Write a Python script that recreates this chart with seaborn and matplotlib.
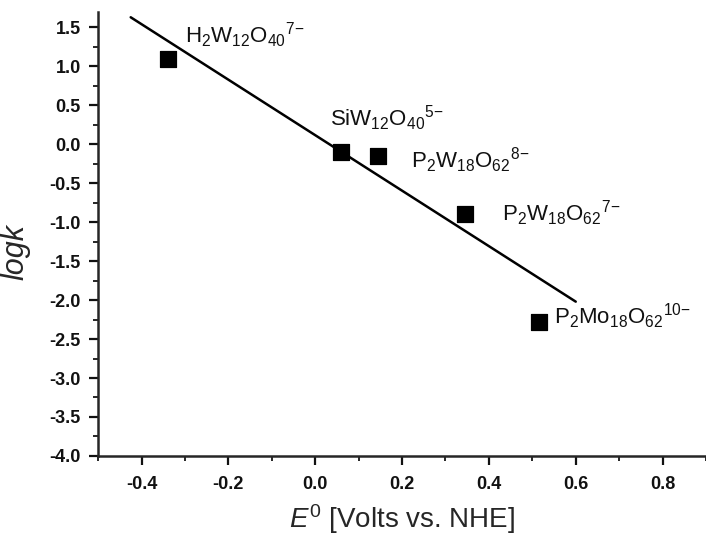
import matplotlib
matplotlib.use("Agg")
import matplotlib.pyplot as plt
import seaborn as sns
import pandas as pd
from matplotlib.ticker import MultipleLocator

# Reduction potentials and rate constants for the polyoxometalates
potential = [-0.34, 0.06, 0.145, 0.345, 0.515]
logk = [1.10, -0.10, -0.15, -0.90, -2.28]
species = [
    r"H$_2$W$_{12}$O$_{40}$$^{7\!-}$",
    r"SiW$_{12}$O$_{40}$$^{5\!-}$",
    r"P$_2$W$_{18}$O$_{62}$$^{8\!-}$",
    r"P$_2$W$_{18}$O$_{62}$$^{7\!-}$",
    r"P$_2$Mo$_{18}$O$_{62}$$^{10\!-}$",
]
label_x = [-0.30, 0.035, 0.22, 0.43, 0.55]
label_y = [1.40, 0.33, -0.20, -0.88, -2.21]

# Linear correlation line
fit_x = [-0.425, 0.60]
fit_y = [1.63, -2.02]

x_ticks = [-0.4, -0.2, 0.0, 0.2, 0.4, 0.6, 0.8]
y_ticks = [-4.0, -3.5, -3.0, -2.5, -2.0, -1.5, -1.0, -0.5, 0.0, 0.5, 1.0, 1.5]

sns.set_style("ticks")
plt.rcParams["font.family"] = ["Liberation Sans", "DejaVu Sans"]
plt.rcParams["mathtext.fontset"] = "custom"
plt.rcParams["mathtext.rm"] = "Liberation Sans"
plt.rcParams["mathtext.it"] = "Liberation Sans:italic"
plt.rcParams["mathtext.default"] = "regular"

df = pd.DataFrame({"E": potential, "logk": logk})
fit = pd.DataFrame({"E": fit_x, "logk": fit_y})

fig = plt.figure(figsize=(7.06, 5.37), dpi=100)
ax = fig.add_axes([0.139, 0.151, 0.861, 0.827])

sns.lineplot(data=fit, x="E", y="logk", ax=ax, color="black", lw=1.8)
sns.scatterplot(data=df, x="E", y="logk", ax=ax, marker="s", s=120,
                color="black", edgecolor="black", zorder=3)

for x, y, t in zip(label_x, label_y, species):
    ax.text(x, y, t, fontsize=16, va="center", ha="left", color="#111111")

ax.set_xlim(-0.5, 0.9)
ax.set_ylim(-4.0, 1.7)
ax.xaxis.set_minor_locator(MultipleLocator(0.1))
ax.yaxis.set_minor_locator(MultipleLocator(0.25))
ax.set_xticks(x_ticks)
ax.set_yticks(y_ticks)
ax.set_xticklabels([f"{v:.1f}" for v in x_ticks], fontweight="bold")
ax.set_yticklabels([f"{v:.1f}" for v in y_ticks], fontweight="bold")

ax.tick_params(which="major", direction="out", length=6.5, width=1.6,
               labelsize=13, colors="#111111")
ax.tick_params(axis="x", which="major", pad=8)
ax.tick_params(axis="y", which="major", pad=6)
ax.tick_params(which="minor", direction="out", length=3.5, width=1.4)
for side in ("left", "bottom"):
    ax.spines[side].set_linewidth(1.8)
sns.despine(ax=ax)

ax.set_xlabel(r"$\mathit{E}^{\mathit{0}}$ [Volts vs. NHE]", fontsize=20)
ax.set_ylabel("logk", fontsize=22, style="italic")
ax.xaxis.set_label_coords(0.5, -0.104)
ax.yaxis.set_label_coords(-0.112, 0.46)

fig.savefig("out.png", dpi=100)
